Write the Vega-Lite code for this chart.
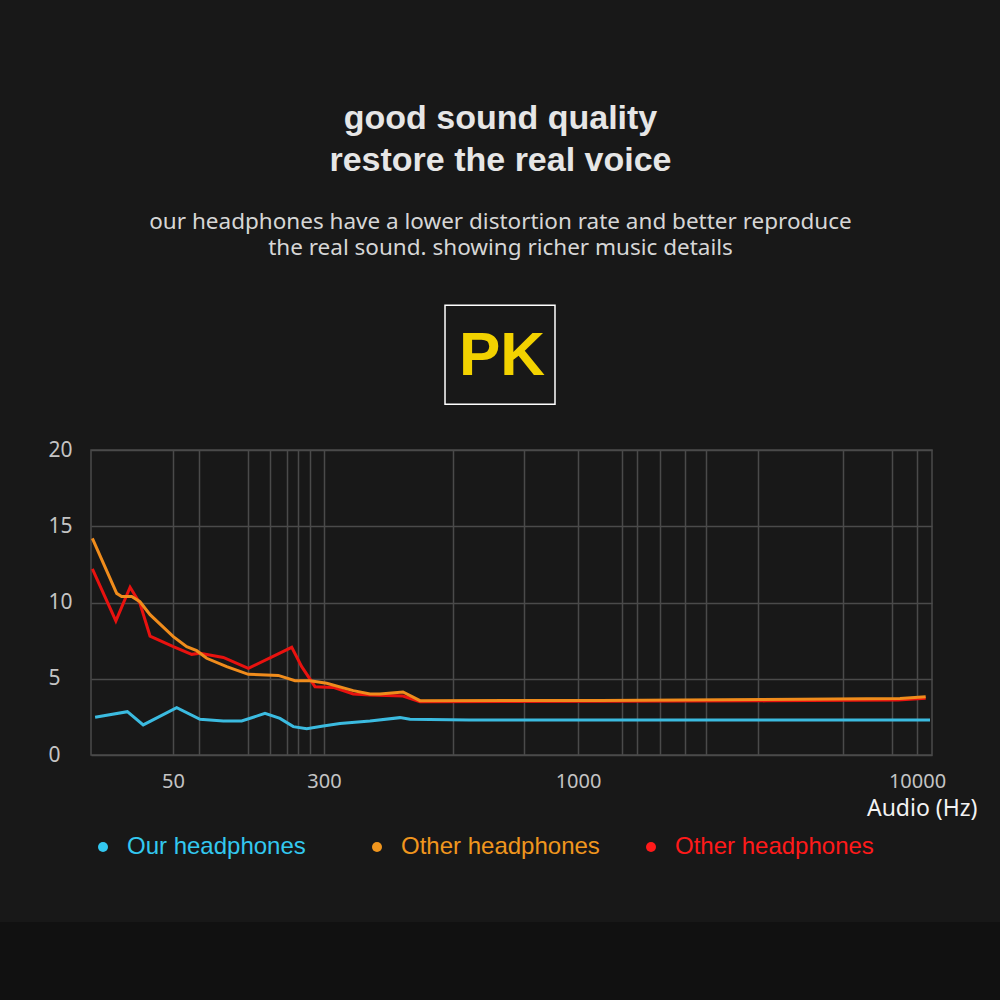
{
  "$schema": "https://vega.github.io/schema/vega-lite/v6.json",
  "width": 841,
  "height": 305,
  "autosize": {"type": "none"},
  "padding": {"left": 91, "top": 450, "right": 68, "bottom": 245},
  "background": "#181818",
  "config": {
    "view": {"stroke": "#4a4a4a", "strokeWidth": 1.5},
    "font": "Noto Sans"
  },
  "title": {
    "text": ["good sound quality", "restore the real voice"],
    "subtitle": ["our headphones have a lower distortion rate and better reproduce", "the real sound. showing richer music details"],
    "anchor": "middle",
    "frame": "group",
    "dx": -11,
    "offset": 45,
    "font": "Liberation Sans",
    "fontSize": 34,
    "fontWeight": "bold",
    "color": "#e6e6e6",
    "lineHeight": 42,
    "subtitleFont": "Noto Sans",
    "subtitleFontSize": 22.5,
    "subtitleColor": "#d6d6d6",
    "subtitleLineHeight": 26,
    "subtitlePadding": 33
  },
  "datasets": {
    "curves": [
      {"s": "our", "f": 21.5, "v": 2.47},
      {"s": "our", "f": 33.3, "v": 2.84},
      {"s": "our", "f": 39.1, "v": 1.97},
      {"s": "our", "f": 56.1, "v": 3.1},
      {"s": "our", "f": 94.7, "v": 2.34},
      {"s": "our", "f": 133.3, "v": 2.23},
      {"s": "our", "f": 163.7, "v": 2.23},
      {"s": "our", "f": 202.3, "v": 2.73},
      {"s": "our", "f": 227.1, "v": 2.4},
      {"s": "our", "f": 249.2, "v": 1.86},
      {"s": "our", "f": 271.4, "v": 1.72},
      {"s": "our", "f": 298.8, "v": 1.9},
      {"s": "our", "f": 344.1, "v": 2.07},
      {"s": "our", "f": 426.8, "v": 2.23},
      {"s": "our", "f": 509.4, "v": 2.45},
      {"s": "our", "f": 537, "v": 2.34},
      {"s": "our", "f": 700, "v": 2.3},
      {"s": "our", "f": 1500, "v": 2.3},
      {"s": "our", "f": 5000, "v": 2.3},
      {"s": "our", "f": 10347, "v": 2.3},
      {"s": "other2", "f": 20.5, "v": 12.2},
      {"s": "other2", "f": 29.1, "v": 8.79},
      {"s": "other2", "f": 34.3, "v": 11.0},
      {"s": "other2", "f": 37.9, "v": 9.95},
      {"s": "other2", "f": 41.6, "v": 7.8},
      {"s": "other2", "f": 50.5, "v": 7.1},
      {"s": "other2", "f": 81, "v": 6.6},
      {"s": "other2", "f": 94.7, "v": 6.67},
      {"s": "other2", "f": 133.3, "v": 6.4},
      {"s": "other2", "f": 174.7, "v": 5.68},
      {"s": "other2", "f": 246.6, "v": 7.06},
      {"s": "other2", "f": 263.1, "v": 5.79},
      {"s": "other2", "f": 285.1, "v": 4.48},
      {"s": "other2", "f": 325.6, "v": 4.43},
      {"s": "other2", "f": 380.7, "v": 4.0},
      {"s": "other2", "f": 426.8, "v": 3.93},
      {"s": "other2", "f": 517.7, "v": 3.87},
      {"s": "other2", "f": 564.6, "v": 3.5},
      {"s": "other2", "f": 2000, "v": 3.52},
      {"s": "other2", "f": 6000, "v": 3.55},
      {"s": "other2", "f": 9500, "v": 3.6},
      {"s": "other2", "f": 10232, "v": 3.72},
      {"s": "other1", "f": 20.5, "v": 14.2},
      {"s": "other1", "f": 29.4, "v": 10.6},
      {"s": "other1", "f": 31.2, "v": 10.4},
      {"s": "other1", "f": 34.9, "v": 10.4},
      {"s": "other1", "f": 37.9, "v": 10.05},
      {"s": "other1", "f": 41.6, "v": 9.2},
      {"s": "other1", "f": 50.5, "v": 7.76},
      {"s": "other1", "f": 72.7, "v": 7.1},
      {"s": "other1", "f": 89.2, "v": 6.84},
      {"s": "other1", "f": 105.8, "v": 6.34},
      {"s": "other1", "f": 138.9, "v": 5.79},
      {"s": "other1", "f": 174.7, "v": 5.29},
      {"s": "other1", "f": 224.3, "v": 5.22},
      {"s": "other1", "f": 252, "v": 4.87},
      {"s": "other1", "f": 276.8, "v": 4.87},
      {"s": "other1", "f": 307.4, "v": 4.7},
      {"s": "other1", "f": 380.7, "v": 4.22},
      {"s": "other1", "f": 426.8, "v": 4.0},
      {"s": "other1", "f": 454.3, "v": 4.0},
      {"s": "other1", "f": 517.7, "v": 4.13},
      {"s": "other1", "f": 564.6, "v": 3.56},
      {"s": "other1", "f": 1584, "v": 3.58},
      {"s": "other1", "f": 6894, "v": 3.65},
      {"s": "other1", "f": 9549, "v": 3.7},
      {"s": "other1", "f": 10232, "v": 3.82}
    ],
    "badge": [{"label": "PK"}]
  },
  "layer": [
    {
      "data": {"name": "badge"},
      "mark": {"type": "rect", "fill": "#111111"},
      "encoding": {
        "x": {"datum": -100, "type": "quantitative"},
        "x2": {"datum": 20000},
        "y": {"datum": -10.95, "type": "quantitative"},
        "y2": {"datum": -20}
      }
    },
    {
      "data": {"name": "curves"},
      "mark": {"type": "line", "strokeWidth": 3, "interpolate": "linear"},
      "encoding": {
        "x": {
          "field": "f",
          "type": "quantitative",
          "scale": {"type": "linear", "domain": [20, 50, 300, 1000, 10000, 10400], "range": [0, 82, 233, 487, 826, 841], "nice": false, "zero": false},
          "axis": {
            "values": [50, 93, 174, 210, 239, 257, 277, 300, 656, 851, 1000, 2168, 2566, 3177, 3841, 4398, 5779, 8035, 9336, 10000],
            "labelExpr": "indexof([50, 300, 1000, 10000], datum.value) >= 0 ? '' + datum.value : ''",
            "labelFlush": false,
            "labelOverlap": false,
            "grid": true,
            "gridColor": "#4a4a4a",
            "gridWidth": 1.5,
            "domain": false,
            "ticks": false,
            "tickSize": 0,
            "labelPadding": 16,
            "labelFont": "Noto Sans",
            "labelFontSize": 20,
            "labelColor": "#c4c4c4",
            "title": "Audio (Hz)",
            "titleFont": "Noto Sans",
            "titleFontSize": 23,
            "titleFontWeight": "normal",
            "titleColor": "#f2f2f2",
            "titleAlign": "right",
            "titleAnchor": "end",
            "titleX": 886,
            "titleY": 53,
            "titleBaseline": "middle"
          }
        },
        "y": {
          "field": "v",
          "type": "quantitative",
          "scale": {"domain": [0, 20], "nice": false, "zero": true},
          "axis": {
            "values": [0, 5, 10, 15, 20],
            "grid": true,
            "gridColor": "#4a4a4a",
            "gridWidth": 1.5,
            "domain": false,
            "ticks": false,
            "tickSize": 0,
            "labelAlign": "left",
            "labelBaseline": "middle",
            "labelPadding": 43,
            "labelFont": "Noto Sans",
            "labelFontSize": 21,
            "labelColor": "#c4c4c4",
            "title": null
          }
        },
        "color": {
          "field": "s",
          "type": "nominal",
          "scale": {"domain": ["our", "other1", "other2"], "range": ["#3bbbe0", "#f08c1c", "#e8120f"]},
          "legend": {
            "title": null,
            "orient": "none",
            "legendX": 0,
            "legendY": 385,
            "direction": "horizontal",
            "columns": 3,
            "gridAlign": "all",
            "columnPadding": 39,
            "padding": 0,
            "symbolType": "circle",
            "symbolSize": 100,
            "symbolStrokeWidth": 0,
            "symbolFillColor": {"expr": "datum.value === 'our' ? '#33c8f0' : datum.value === 'other1' ? '#f0961e' : '#ff1a1a'"},
            "labelColor": {"expr": "datum.value === 'our' ? '#33c8f0' : datum.value === 'other1' ? '#f0961e' : '#ff1a1a'"},
            "labelExpr": "datum.value === 'our' ? 'Our headphones' : 'Other headphones'",
            "labelFont": "Liberation Sans",
            "labelFontSize": 24,
            "labelOffset": 12,
            "labelLimit": 400
          }
        }
      }
    },
    {
      "data": {"name": "badge"},
      "mark": {"type": "rect", "fill": "transparent", "stroke": "#ffffff", "strokeWidth": 1.5},
      "encoding": {
        "x": {"datum": 633.5, "type": "quantitative"},
        "x2": {"datum": 936.6},
        "y": {"datum": 29.5, "type": "quantitative"},
        "y2": {"datum": 23.0}
      }
    },
    {
      "data": {"name": "badge"},
      "mark": {"type": "text", "font": "Liberation Sans", "fontSize": 62, "fontWeight": "bold", "color": "#f2d200", "align": "center", "baseline": "middle"},
      "encoding": {
        "x": {"datum": 790.6, "type": "quantitative"},
        "y": {"datum": 26.16, "type": "quantitative"},
        "text": {"field": "label"}
      }
    }
  ]
}
